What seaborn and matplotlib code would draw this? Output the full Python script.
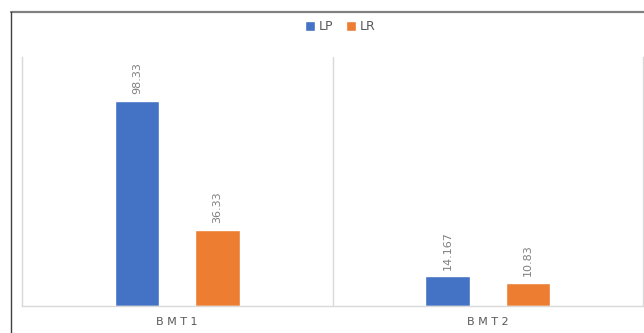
import matplotlib
matplotlib.use("Agg")
import matplotlib.pyplot as plt
from matplotlib.lines import Line2D
from matplotlib.patches import Patch
import seaborn as sns
import pandas as pd

categories = ["BMT1", "BMT2"]
tick_labels = ["B M T 1", "B M T 2"]
series_names = ["LP", "LR"]
lp_values = [98.33, 14.167]
lr_values = [36.33, 10.83]
value_labels_lp = ["98.33", "14.167"]
value_labels_lr = ["36.33", "10.83"]

df = pd.DataFrame({
    "cat": categories * 2,
    "series": [series_names[0]] * 2 + [series_names[1]] * 2,
    "value": lp_values + lr_values,
    "label": value_labels_lp + value_labels_lr,
})

sns.set_theme(style="white")
plt.rcParams['font.family'] = ['DejaVu Sans']

colors = {"LP": "#4472C4", "LR": "#ED7D31"}

fig = plt.figure(figsize=(6.44, 3.33), dpi=100)
ax = fig.add_axes([22/644, 1-306/333, (643-22)/644, 249/333])

sns.barplot(data=df, x="cat", y="value", hue="series", palette=colors,
            width=0.52, gap=0.45, ax=ax, legend=False, saturation=1)

ax.set_ylim(0, 119.4)
ax.set_xlim(-0.5, 1.5)
ax.set_yticks([])
ax.set_xlabel("")
ax.set_ylabel("")
ax.set_xticks([0, 1])
ax.set_xticklabels(tick_labels, fontsize=8, color="#595959")
ax.tick_params(axis="x", length=0, pad=8)

ax.spines["top"].set_visible(False)
for s in ["left", "right", "bottom"]:
    ax.spines[s].set_color("#D9D9D9")
    ax.spines[s].set_linewidth(1.0)

ax.axvline(0.5, color="#D9D9D9", lw=1.0)

labels_by_series = {"LP": value_labels_lp, "LR": value_labels_lr}
for container, name in zip(ax.containers, series_names):
    ax.bar_label(container, labels=labels_by_series[name], rotation=90,
                 padding=5, fontsize=8, color="#7F7F7F")

handles = [Patch(facecolor=colors[n], label=n) for n in series_names]
fig.legend(handles=handles, loc="center", bbox_to_anchor=(340/644, 1-27/333),
           ncol=2, frameon=False, fontsize=9, handlelength=0.8, handleheight=0.8,
           columnspacing=1.0, handletextpad=0.3, labelcolor="#595959")

# outer frame lines
fig.add_artist(Line2D([11/644, 1], [1-12/333, 1-12/333], color="#808080", lw=1.6,
                      transform=fig.transFigure))
fig.add_artist(Line2D([11/644, 11/644], [0, 1-12/333], color="#404040", lw=1.0,
                      transform=fig.transFigure))

fig.savefig("out.png", dpi=100, facecolor="white")
